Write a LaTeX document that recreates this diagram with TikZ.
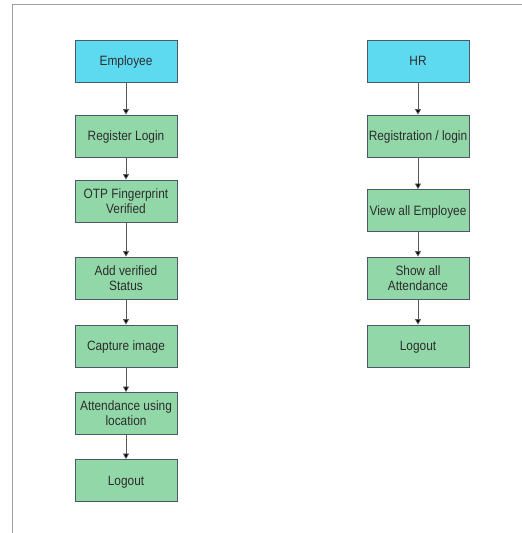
\documentclass[tikz,border=0pt]{standalone}
\usepackage{fontspec}
\setmainfont{Liberation Sans}[FakeStretch=0.88]
\usetikzlibrary{arrows.meta}
\definecolor{hdr}{RGB}{94,218,240}
\definecolor{stp}{RGB}{145,215,168}
\definecolor{edgec}{RGB}{75,88,105}
\definecolor{txt}{RGB}{45,45,45}
\definecolor{frame}{RGB}{160,160,160}
\tikzset{
  box/.style={draw=edgec, line width=0.9pt, minimum width=102pt, minimum height=42pt,
    inner sep=1pt, align=center, text=txt, font=\fontsize{13.5}{15}\selectfont},
  hbox/.style={box, fill=hdr},
  sbox/.style={box, fill=stp},
  oneline/.style={text height=9.6pt, text depth=0pt},
  conn/.style={draw=black!65, line width=0.7pt, -{Triangle[length=5.5pt,width=6pt,fill=black]}}
}
\begin{document}
\begin{tikzpicture}[x=1pt,y=1pt]
\useasboundingbox (0,0) rectangle (522,-533);
\draw[frame, line width=1.4pt] (12.5,-533) -- (12.5,-4.5) -- (522,-4.5);
% left column
\node[hbox,oneline] (e0) at (126,-61) {Employee};
\node[sbox,oneline] (e1) at (126,-136) {Register Login};
\node[sbox] (e2) at (126,-201) {OTP Fingerprint\\Verified};
\node[sbox] (e3) at (126,-278) {Add verified\\Status};
\node[sbox,oneline] (e4) at (126,-346) {Capture image};
\node[sbox] (e5) at (126,-413.5) {Attendance using\\location};
\node[sbox,oneline] (e6) at (126,-480.5) {Logout};
% right column
\node[hbox,oneline] (h0) at (418,-61) {HR};
\node[sbox,oneline] (h1) at (418,-136) {Registration / login};
\node[sbox,oneline] (h2) at (418,-210.5) {View all Employee};
\node[sbox] (h3) at (418,-278) {Show all\\Attendance};
\node[sbox,oneline] (h4) at (418,-346) {Logout};
\foreach \a/\b in {e0/e1,e1/e2,e2/e3,e3/e4,e4/e5,e5/e6,h0/h1,h1/h2,h2/h3,h3/h4}
  \draw[conn] (\a) -- (\b);
\end{tikzpicture}
\end{document}
